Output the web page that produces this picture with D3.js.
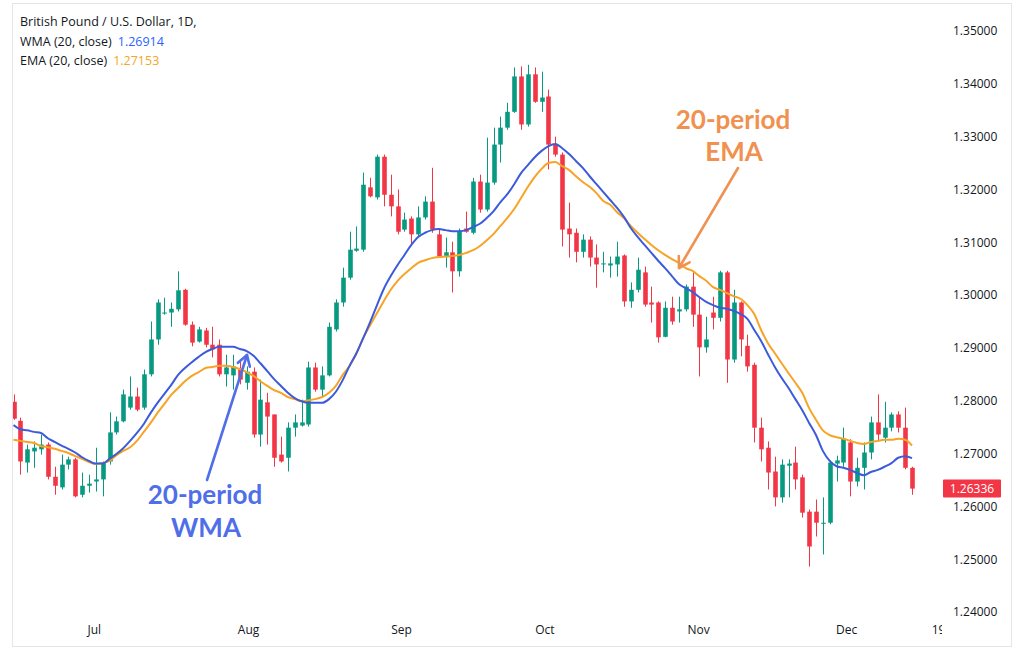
<!DOCTYPE html>
<html><head><meta charset="utf-8">
<script src="https://cdn.jsdelivr.net/npm/d3@7"></script>
<style>
body{margin:0;background:#fff;}
svg{display:block;font-family:"Open Sans",sans-serif;}
</style>
</head><body>
<svg id="c" width="1024" height="661"></svg>
<script>
// ---- data (GBP/USD daily) ----
const opens=[
1.2798,1.2762,1.2683,1.2704,1.2708,1.2717,1.2656,1.2636,1.2679,1.2689,
1.2622,1.2639,1.2647,1.2651,1.2685,1.2740,1.2761,1.2787,1.2808,1.2787,
1.2850,1.2916,1.2965,1.2967,1.2973,1.3010,1.2944,1.2912,1.2933,1.2906,
1.2906,1.2850,1.2848,1.2859,1.2834,1.2855,1.2736,1.2797,1.2774,1.2698,
1.2692,1.2749,1.2753,1.2755,1.2863,1.2821,1.2848,1.2935,1.2986,1.3033,
1.3084,1.3086,1.3204,1.3185,1.3262,1.3190,1.3168,1.3124,1.3145,1.3115,
1.3147,1.3177,1.3115,1.3073,1.3081,1.3045,1.3126,1.3118,1.3215,1.3162,
1.3213,1.3285,1.3317,1.3347,1.3414,1.3323,1.3418,1.3366,1.3376,1.3285,
1.3266,1.3126,1.3118,1.3082,1.3105,1.3071,1.3058,1.3056,1.3058,1.3075,
1.2988,1.3010,1.3043,1.2986,1.2986,1.2921,1.2976,1.2969,1.2973,1.3016,
1.2963,1.2901,1.2967,1.2957,1.3043,1.2878,1.2986,1.2904,1.2868,1.2749,
1.2711,1.2666,1.2617,1.2677,1.2683,1.2655,1.2590,1.2590,1.2567,1.2569,
1.2681,1.2683,1.2721,1.2647,1.2673,1.2702,1.2759,1.2730,1.2749,1.2774,
1.2749,1.2673];
const highs=[
1.2812,1.2768,1.2717,1.2723,1.2736,1.2721,1.2675,1.2698,1.2694,1.2692,
1.2664,1.2660,1.2711,1.2685,1.2778,1.2770,1.2821,1.2846,1.2825,1.2859,
1.2950,1.2992,1.2995,1.2986,1.3045,1.3012,1.2950,1.2940,1.2938,1.2940,
1.2916,1.2887,1.2887,1.2878,1.2865,1.2863,1.2840,1.2815,1.2774,1.2732,
1.2759,1.2774,1.2802,1.2874,1.2872,1.2865,1.2948,1.2992,1.3052,1.3120,
1.3130,1.3232,1.3222,1.3266,1.3266,1.3228,1.3200,1.3156,1.3149,1.3168,
1.3187,1.3241,1.3126,1.3109,1.3101,1.3126,1.3158,1.3222,1.3228,1.3298,
1.3317,1.3338,1.3364,1.3431,1.3433,1.3436,1.3431,1.3423,1.3389,1.3300,
1.3270,1.3175,1.3126,1.3115,1.3111,1.3096,1.3082,1.3073,1.3101,1.3077,
1.3024,1.3071,1.3054,1.3016,1.2988,1.2988,1.2997,1.2997,1.3020,1.3043,
1.2997,1.2959,1.2997,1.3046,1.3046,1.3010,1.2988,1.2925,1.2872,1.2768,
1.2723,1.2694,1.2689,1.2689,1.2713,1.2660,1.2594,1.2613,1.2617,1.2687,
1.2696,1.2749,1.2727,1.2692,1.2721,1.2770,1.2812,1.2798,1.2778,1.2780,
1.2787,1.2675];
const lows=[
1.2764,1.2660,1.2664,1.2673,1.2698,1.2651,1.2622,1.2632,1.2670,1.2617,
1.2617,1.2626,1.2628,1.2619,1.2679,1.2736,1.2759,1.2783,1.2780,1.2783,
1.2846,1.2906,1.2963,1.2940,1.2969,1.2942,1.2903,1.2910,1.2901,1.2882,
1.2846,1.2827,1.2821,1.2831,1.2821,1.2730,1.2713,1.2717,1.2675,1.2683,
1.2666,1.2732,1.2751,1.2751,1.2817,1.2808,1.2846,1.2931,1.2978,1.3029,
1.3082,1.3082,1.3185,1.3181,1.3168,1.3149,1.3115,1.3120,1.3096,1.3111,
1.3143,1.3118,1.3073,1.3052,1.3005,1.3035,1.3118,1.3115,1.3156,1.3158,
1.3209,1.3251,1.3313,1.3345,1.3313,1.3319,1.3364,1.3347,1.3238,1.3262,
1.3092,1.3071,1.3062,1.3071,1.3054,1.3014,1.3043,1.3033,1.3035,1.2978,
1.2976,1.3005,1.2978,1.2948,1.2910,1.2920,1.2944,1.2948,1.2969,1.2940,
1.2846,1.2891,1.2935,1.2950,1.2834,1.2872,1.2884,1.2855,1.2721,1.2685,
1.2632,1.2600,1.2607,1.2617,1.2632,1.2579,1.2486,1.2543,1.2509,1.2566,
1.2647,1.2675,1.2619,1.2638,1.2632,1.2689,1.2723,1.2721,1.2742,1.2740,
1.2670,1.2622];
const closes=[
1.2766,1.2685,1.2708,1.2711,1.2717,1.2656,1.2639,1.2679,1.2689,1.2619,
1.2639,1.2643,1.2651,1.2683,1.2740,1.2761,1.2812,1.2808,1.2783,1.2850,
1.2916,1.2986,1.2967,1.2974,1.3009,1.2944,1.2910,1.2935,1.2906,1.2897,
1.2850,1.2863,1.2865,1.2840,1.2855,1.2736,1.2802,1.2770,1.2692,1.2685,
1.2749,1.2759,1.2759,1.2863,1.2821,1.2848,1.2940,1.2986,1.3033,1.3086,
1.3088,1.3209,1.3187,1.3262,1.3190,1.3168,1.3120,1.3143,1.3115,1.3147,
1.3177,1.3124,1.3073,1.3081,1.3045,1.3120,1.3120,1.3215,1.3162,1.3213,
1.3285,1.3317,1.3347,1.3414,1.3323,1.3418,1.3366,1.3374,1.3285,1.3266,
1.3124,1.3115,1.3082,1.3105,1.3071,1.3058,1.3060,1.3060,1.3073,1.2988,
1.3010,1.3048,1.2982,1.2982,1.2920,1.2976,1.2950,1.2973,1.3016,1.2963,
1.2901,1.2916,1.2957,1.3043,1.2878,1.2986,1.2916,1.2865,1.2749,1.2708,
1.2664,1.2617,1.2679,1.2681,1.2651,1.2588,1.2524,1.2569,1.2569,1.2683,
1.2687,1.2728,1.2647,1.2673,1.2702,1.2759,1.2736,1.2749,1.2774,1.2749,
1.2673,1.26336];
const wma=[
1.2754,1.2746,1.2744,1.2741,1.2739,1.2729,1.2722,1.2715,1.2709,1.2702,
1.2693,1.2686,1.2681,1.2681,1.2690,1.2699,1.2710,1.2724,1.2739,1.2756,
1.2777,1.2796,1.2813,1.2830,1.2849,1.2862,1.2873,1.2883,1.2892,1.2898,
1.2902,1.2902,1.2902,1.2898,1.2894,1.2885,1.2871,1.2856,1.2841,1.2828,
1.2815,1.2805,1.2799,1.2796,1.2796,1.2796,1.2803,1.2817,1.2839,1.2866,
1.2890,1.2919,1.2949,1.2981,1.3012,1.3036,1.3057,1.3076,1.3095,1.3110,
1.3118,1.3123,1.3125,1.3123,1.3121,1.3121,1.3123,1.3129,1.3135,1.3146,
1.3159,1.3176,1.3191,1.3210,1.3231,1.3246,1.3261,1.3273,1.3282,1.3286,
1.3278,1.3267,1.3254,1.3241,1.3225,1.3210,1.3195,1.3180,1.3165,1.3148,
1.3127,1.3110,1.3095,1.3080,1.3065,1.3051,1.3036,1.3021,1.3013,1.3006,
1.2996,1.2987,1.2981,1.2976,1.2974,1.2970,1.2964,1.2955,1.2934,1.2913,
1.2888,1.2864,1.2843,1.2824,1.2803,1.2782,1.2758,1.2735,1.2705,1.2686,
1.2676,1.2673,1.2669,1.2663,1.2659,1.2665,1.2669,1.2675,1.2682,1.2692,
1.2695,1.26914];
const ema=[
1.2726,1.2724,1.2722,1.2720,1.2714,1.2712,1.2709,1.2705,1.2701,1.2695,
1.2690,1.2684,1.2680,1.2682,1.2686,1.2697,1.2705,1.2712,1.2724,1.2741,
1.2758,1.2777,1.2794,1.2811,1.2824,1.2837,1.2847,1.2854,1.2862,1.2864,
1.2866,1.2866,1.2864,1.2860,1.2854,1.2847,1.2837,1.2828,1.2820,1.2815,
1.2807,1.2803,1.2799,1.2801,1.2803,1.2807,1.2815,1.2828,1.2849,1.2866,
1.2890,1.2919,1.2943,1.2966,1.2989,1.3010,1.3027,1.3040,1.3051,1.3061,
1.3066,1.3070,1.3072,1.3073,1.3074,1.3076,1.3080,1.3085,1.3093,1.3104,
1.3116,1.3131,1.3146,1.3163,1.3184,1.3205,1.3224,1.3239,1.3250,1.3252,
1.3244,1.3237,1.3225,1.3214,1.3205,1.3193,1.3178,1.3171,1.3157,1.3146,
1.3131,1.3118,1.3106,1.3095,1.3085,1.3076,1.3068,1.3061,1.3051,1.3046,
1.3036,1.3027,1.3015,1.3010,1.3004,1.2998,1.2993,1.2981,1.2964,1.2934,
1.2909,1.2890,1.2871,1.2852,1.2834,1.2815,1.2786,1.2764,1.2744,1.2735,
1.2731,1.2728,1.2724,1.2720,1.2718,1.2722,1.2724,1.2726,1.2726,1.2728,
1.2726,1.27153];
const priceTicks=[1.24,1.25,1.26,1.27,1.28,1.29,1.30,1.31,1.32,1.33,1.34,1.35];
const dateLabels=["Jul","Aug","Sep","Oct","Nov","Dec","19"];
const dateBars=[11.7,34.2,56.5,77.4,99.8,121.4,134.8];
const legendLines=[
  {label:"British Pound / U.S. Dollar, 1D,", value:"", color:"#131722"},
  {label:"WMA (20, close)", value:"1.26914", color:"#2962ff"},
  {label:"EMA (20, close)", value:"1.27153", color:"#f5a623"}];
const lastPrice=1.26336;

// ---- drawing ----
const W=1024,H=661;
const RED="#f23645", GREEN="#089981", BLUE="#3b5bdb", ORANGE="#f7a325";
const svg=d3.select("#c");
svg.append("rect").attr("width",W).attr("height",H).attr("fill","#fff");
svg.append("rect").attr("x",12.5).attr("y",3.5).attr("width",999).attr("height",643)
  .attr("fill","none").attr("stroke","#e3e5ea").attr("stroke-width",1);

const x=d3.scaleLinear().domain([0,closes.length-1]).range([13.5,912]);
const y=d3.scaleLinear().domain([1.24,1.35]).range([612,31]);

const defs=svg.append("defs");
defs.append("clipPath").attr("id","plot").append("rect").attr("x",13).attr("y",4).attr("width",927).attr("height",615);
defs.append("clipPath").attr("id","dates").append("rect").attr("x",13).attr("y",612).attr("width",929).attr("height",34);

const plot=svg.append("g").attr("clip-path","url(#plot)");
const idx=d3.range(closes.length);
const bodyW=4.6;
const candles=plot.append("g").selectAll("g").data(idx).join("g");
candles.append("line")
  .attr("x1",i=>Math.round(x(i))+0.5).attr("x2",i=>Math.round(x(i))+0.5)
  .attr("y1",i=>y(highs[i])).attr("y2",i=>y(lows[i]))
  .attr("stroke",i=>closes[i]>=opens[i]?GREEN:RED).attr("stroke-width",1);
candles.append("rect")
  .attr("x",i=>Math.round(x(i))+0.5-bodyW/2)
  .attr("width",bodyW)
  .attr("y",i=>y(Math.max(opens[i],closes[i])))
  .attr("height",i=>Math.max(1,Math.abs(y(opens[i])-y(closes[i]))))
  .attr("fill",i=>closes[i]>=opens[i]?GREEN:RED);

const lineGen=arr=>d3.line().x(i=>x(i)).y(i=>y(arr[i])).curve(d3.curveMonotoneX)(idx);
plot.append("path").attr("d",lineGen(ema)).attr("fill","none").attr("stroke",ORANGE).attr("stroke-width",2);
plot.append("path").attr("d",lineGen(wma)).attr("fill","none").attr("stroke",BLUE).attr("stroke-width",2);

// price axis
const yAxis=d3.axisRight(y).tickValues(priceTicks).tickFormat(d3.format(".5f")).tickSize(0).tickPadding(0);
const ya=svg.append("g").attr("transform","translate(953,0)").call(yAxis);
ya.select(".domain").remove();
ya.selectAll("text").attr("font-family","'Open Sans',sans-serif").attr("font-size",12).attr("fill","#131722");

// date axis (outer group clipped in page coordinates)
const xAxis=d3.axisBottom(x).tickValues(dateBars).tickFormat((d,i)=>dateLabels[i]).tickSize(0).tickPadding(0);
const xwrap=svg.append("g").attr("clip-path","url(#dates)");
const xa=xwrap.append("g").attr("transform","translate(0,625)").call(xAxis);
xa.select(".domain").remove();
xa.selectAll("text").attr("font-family","'Open Sans',sans-serif").attr("font-size",12).attr("fill","#131722");

// last price tag
const lp=svg.append("g").attr("transform",`translate(943,${y(lastPrice)})`);
lp.append("rect").attr("x",0).attr("y",-9).attr("width",58).attr("height",18).attr("fill",RED).attr("rx",1);
lp.append("text").attr("x",29).attr("y",4.5).attr("text-anchor","middle").attr("font-size",12).attr("fill","#fff").text(d3.format(".5f")(lastPrice));

// legend
const lg=svg.append("g").attr("font-size",12.5);
legendLines.forEach((d,i)=>{
  const t=lg.append("text").attr("x",20).attr("y",26+i*19.5).attr("fill","#131722");
  t.append("tspan").text(d.label);
  if(d.value) t.append("tspan").attr("dx",6).attr("fill",d.color).text(d.value);
});

// annotations
function arrow(g,x1,y1,x2,y2,color){
  g.append("line").attr("x1",x1).attr("y1",y1).attr("x2",x2).attr("y2",y2)
   .attr("stroke",color).attr("stroke-width",2.6).attr("stroke-linecap","round");
  const a=Math.atan2(y2-y1,x2-x1), L=12, s=0.55;
  const p=(ang)=>[x2-L*Math.cos(a+ang), y2-L*Math.sin(a+ang)];
  const [ax,ay]=p(s),[bx,by]=p(-s);
  g.append("path").attr("d",`M${ax},${ay}L${x2},${y2}L${bx},${by}`).attr("fill","none")
   .attr("stroke",color).attr("stroke-width",2.6).attr("stroke-linecap","round").attr("stroke-linejoin","round");
}
const ann=svg.append("g").attr("font-family","Lato,'Open Sans',sans-serif").attr("font-weight","bold").attr("font-size",26).attr("text-anchor","middle");
const ABLUE="#4f6ee8", AORANGE="#f0914f";
arrow(ann,207,480,247,355,ABLUE);
ann.append("text").attr("x",205).attr("y",504).attr("fill",ABLUE).text("20-period");
ann.append("text").attr("x",206).attr("y",537).attr("fill",ABLUE).text("WMA");
arrow(ann,738,168,679,268,AORANGE);
ann.append("text").attr("x",733).attr("y",129).attr("fill",AORANGE).text("20-period");
ann.append("text").attr("x",734).attr("y",161).attr("fill",AORANGE).text("EMA");
</script>
</body></html>
